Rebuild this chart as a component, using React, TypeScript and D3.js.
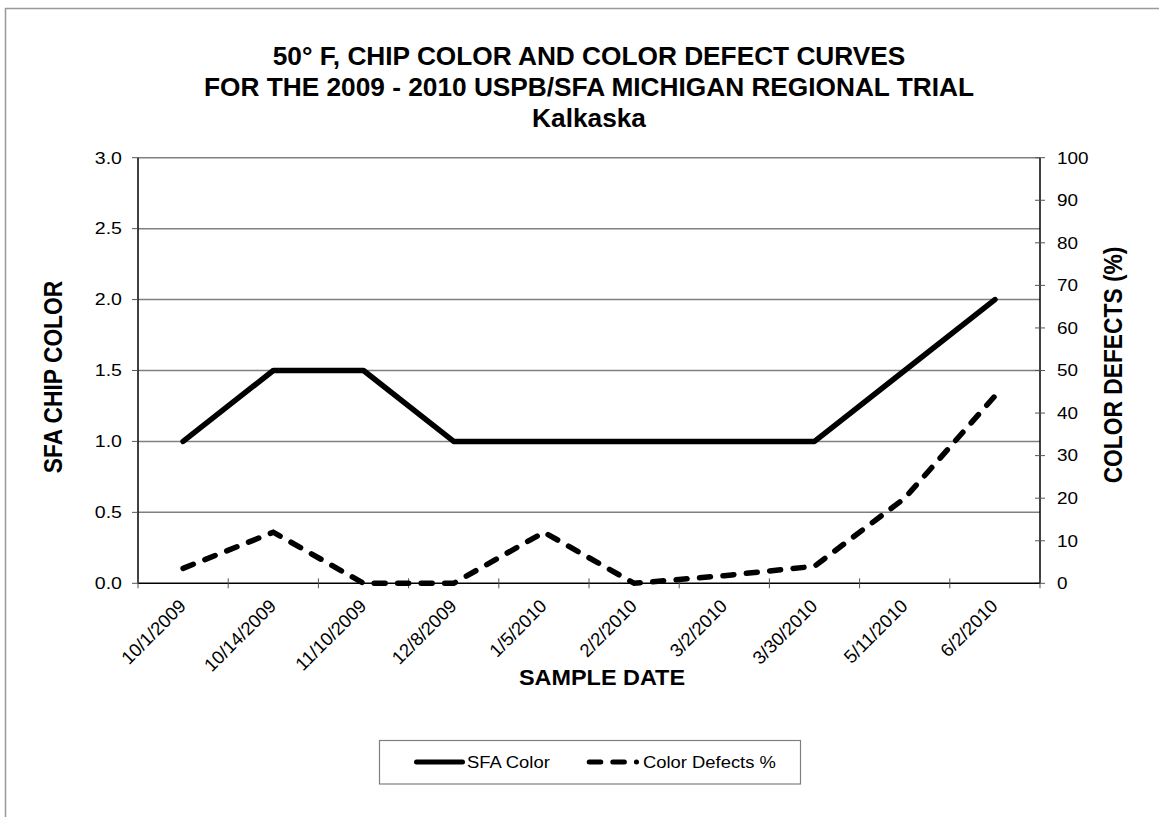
import React, { useEffect, useRef } from 'react';
import * as d3 from 'd3';

const dates = [
  '10/1/2009', '10/14/2009', '11/10/2009', '12/8/2009', '1/5/2010',
  '2/2/2010', '3/2/2010', '3/30/2010', '5/11/2010', '6/2/2010',
];
const sfaColor = [1.0, 1.5, 1.5, 1.0, 1.0, 1.0, 1.0, 1.0, 1.5, 2.0];
const colorDefects = [3.5, 12, 0, 0, 12, 0, 1.8, 4, 20, 44];
const leftTicks = [0, 0.5, 1, 1.5, 2, 2.5, 3];
const rightTicks = [0, 10, 20, 30, 40, 50, 60, 70, 80, 90, 100];
const titleLines = [
  '50° F, CHIP COLOR AND COLOR DEFECT CURVES',
  'FOR THE 2009 - 2010 USPB/SFA MICHIGAN REGIONAL TRIAL',
  'Kalkaska',
];

const W = 1159;
const H = 817;
const FONT = 'Arial, "Liberation Sans", Helvetica, sans-serif';

const App: React.FC = () => {
  const svgRef = useRef<SVGSVGElement>(null);

  useEffect(() => {
    if (!svgRef.current) return;
    const svg = d3.select(svgRef.current);
    svg.selectAll('*').remove();

    const left = 138;
    const right = 1040;
    const top = 157.7;
    const bottom = 583.3;
    const cx = (left + right) / 2;

    // the reference text is a little wider than plain Arial, so stretch it in x
    const label = (
      parent: d3.Selection<any, any, any, any>,
      tx: number, ty: number, sx: number, rot: number,
      txt: string, size: number, anchor: string, bold = false,
    ) => {
      const g = parent.append('g')
        .attr('transform', `translate(${tx},${ty}) scale(${sx},1) rotate(${rot})`);
      g.append('text')
        .attr('text-anchor', anchor)
        .attr('font-family', FONT)
        .attr('font-size', size)
        .attr('font-weight', bold ? 'bold' : 'normal')
        .text(txt);
      return g;
    };

    // outer frame
    svg.append('rect')
      .attr('x', 5.5).attr('y', 8.5)
      .attr('width', 1300).attr('height', 1000)
      .attr('fill', 'white').attr('stroke', '#999').attr('stroke-width', 1.5);

    const x = d3.scaleBand<string>().domain(dates).range([left, right]);
    const yL = d3.scaleLinear().domain([0, 3]).range([bottom, top]);
    const yR = d3.scaleLinear().domain([0, 100]).range([bottom, top]);

    // title
    titleLines.forEach((t, i) => label(svg, cx, 65 + i * 30.8, 1.05, 0, t, 25, 'middle', true));

    // gridlines
    svg.append('g').selectAll('line').data(leftTicks.filter((t) => t > 0)).enter().append('line')
      .attr('x1', left).attr('x2', right)
      .attr('y1', (d) => yL(d)).attr('y2', (d) => yL(d))
      .attr('stroke', '#808080').attr('stroke-width', 1.5);

    // left axis
    const gl = svg.append('g');
    gl.append('line').attr('x1', left).attr('x2', left).attr('y1', top).attr('y2', bottom)
      .attr('stroke', 'black').attr('stroke-width', 1.5);
    gl.selectAll('.t').data(leftTicks).enter().append('line')
      .attr('x1', left - 6).attr('x2', left)
      .attr('y1', (d) => yL(d)).attr('y2', (d) => yL(d))
      .attr('stroke', '#555').attr('stroke-width', 1);
    leftTicks.forEach((t) => label(gl, 122, yL(t) + 5.8, 1.2, 0, d3.format('.1f')(t), 16.3, 'end'));

    // right axis
    const gr = svg.append('g');
    gr.append('line').attr('x1', right).attr('x2', right).attr('y1', top).attr('y2', bottom)
      .attr('stroke', 'black').attr('stroke-width', 1.5);
    gr.selectAll('.t').data(rightTicks).enter().append('line')
      .attr('x1', right - 5).attr('x2', right + 5)
      .attr('y1', (d) => yR(d)).attr('y2', (d) => yR(d))
      .attr('stroke', '#555').attr('stroke-width', 1);
    rightTicks.forEach((t) => label(gr, 1057, yR(t) + 5.8, 1.16, 0, String(t), 16.3, 'start'));

    // x axis
    const gx = svg.append('g');
    gx.append('line').attr('x1', left).attr('x2', right).attr('y1', bottom).attr('y2', bottom)
      .attr('stroke', 'black').attr('stroke-width', 1.5);
    const bounds = dates.map((d) => x(d) as number).concat([right]);
    gx.selectAll('.t').data(bounds).enter().append('line')
      .attr('x1', (d) => d).attr('x2', (d) => d)
      .attr('y1', bottom - 5).attr('y2', bottom + 5)
      .attr('stroke', '#555').attr('stroke-width', 1);
    dates.forEach((d) =>
      label(gx, (x(d) as number) + x.bandwidth() / 2 + 4, bottom + 24, 1, -45, d, 18.5, 'end'));

    // axis titles
    label(svg, 62, 377, 1.17, -90, 'SFA CHIP COLOR', 22.8, 'middle', true);
    label(svg, 1122, 365, 1.17, -90, 'COLOR DEFECTS (%)', 22.8, 'middle', true);
    label(svg, cx + 13, 685, 1.09, 0, 'SAMPLE DATE', 21.5, 'middle', true);

    const cxOf = (i: number) => (x(dates[i]) as number) + x.bandwidth() / 2;
    const lineL = d3.line<number>().x((_d, i) => cxOf(i)).y((d) => yL(d));
    const lineR = d3.line<number>().x((_d, i) => cxOf(i)).y((d) => yR(d));

    svg.append('path').datum(colorDefects)
      .attr('d', lineR)
      .attr('fill', 'none').attr('stroke', 'black').attr('stroke-width', 5.5)
      .attr('stroke-dasharray', '11,12.5').attr('stroke-linecap', 'round');

    svg.append('path').datum(sfaColor)
      .attr('d', lineL)
      .attr('fill', 'none').attr('stroke', 'black').attr('stroke-width', 5.5)
      .attr('stroke-linejoin', 'round').attr('stroke-linecap', 'round');

    // legend
    const lg = svg.append('g');
    lg.append('rect').attr('x', 379.5).attr('y', 740.5).attr('width', 421).attr('height', 43.5)
      .attr('fill', 'white').attr('stroke', '#808080').attr('stroke-width', 1.2);
    const ly = 762;
    lg.append('line').attr('x1', 416.5).attr('x2', 462.5).attr('y1', ly).attr('y2', ly)
      .attr('stroke', 'black').attr('stroke-width', 5).attr('stroke-linecap', 'round');
    label(lg, 467, ly + 6.2, 1.07, 0, 'SFA Color', 17.2, 'start');
    lg.append('line').attr('x1', 589.2).attr('x2', 636.5).attr('y1', ly).attr('y2', ly)
      .attr('stroke', 'black').attr('stroke-width', 5).attr('stroke-linecap', 'round')
      .attr('stroke-dasharray', '11.6,12');
    label(lg, 643, ly + 6.2, 1.07, 0, 'Color Defects %', 17.2, 'start');
  }, []);

  return (
    <svg
      ref={svgRef}
      width={W}
      height={H}
      style={{ position: 'absolute', left: 0, top: 0, background: 'white' }}
    />
  );
};

export default App;
